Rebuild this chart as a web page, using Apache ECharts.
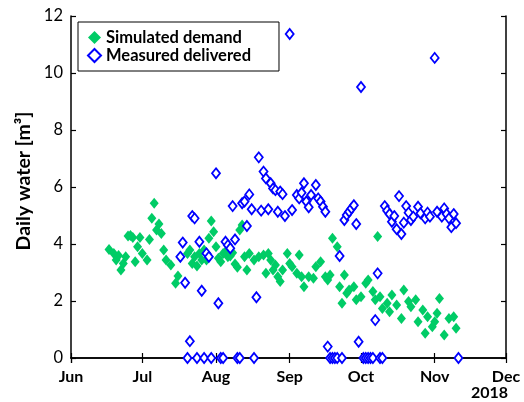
<!DOCTYPE html>
<html><head><meta charset="utf-8">
<script src="https://cdn.jsdelivr.net/npm/echarts@6/dist/echarts.min.js"></script>
<style>html,body{margin:0;padding:0;background:#fff}#c{width:524px;height:402px}</style>
</head><body><div id="c"></div>
<script>
var monthLabels = ['Jan','Feb','Mar','Apr','May','Jun','Jul','Aug','Sep','Oct','Nov','Dec'];
var yTicks = [0, 2, 4, 6, 8, 10, 12];
var simDates = ['2018-06-17','2018-06-19','2018-06-20','2018-06-21','2018-06-22','2018-06-23','2018-06-24','2018-06-25','2018-06-26','2018-06-27','2018-06-28','2018-06-29','2018-06-30','2018-07-01','2018-07-03','2018-07-04','2018-07-05','2018-07-06','2018-07-07','2018-07-08','2018-07-09','2018-07-10','2018-07-11','2018-07-13','2018-07-15','2018-07-16','2018-07-17','2018-07-20','2018-07-21','2018-07-22','2018-07-23','2018-07-24','2018-07-25','2018-07-26','2018-07-27','2018-07-28','2018-07-29','2018-07-30','2018-07-31','2018-08-01','2018-08-02','2018-08-03','2018-08-04','2018-08-05','2018-08-06','2018-08-07','2018-08-08','2018-08-09','2018-08-10','2018-08-11','2018-08-12','2018-08-13','2018-08-14','2018-08-15','2018-08-17','2018-08-19','2018-08-21','2018-08-22','2018-08-23','2018-08-24','2018-08-25','2018-08-26','2018-08-27','2018-08-28','2018-08-29','2018-08-31','2018-09-01','2018-09-02','2018-09-04','2018-09-05','2018-09-06','2018-09-07','2018-09-09','2018-09-11','2018-09-12','2018-09-14','2018-09-16','2018-09-17','2018-09-18','2018-09-19','2018-09-21','2018-09-22','2018-09-23','2018-09-24','2018-09-25','2018-09-26','2018-09-28','2018-09-29','2018-10-01','2018-10-03','2018-10-04','2018-10-06','2018-10-07','2018-10-08','2018-10-09','2018-10-10','2018-10-12','2018-10-13','2018-10-14','2018-10-16','2018-10-18','2018-10-19','2018-10-21','2018-10-22','2018-10-24','2018-10-25','2018-10-27','2018-10-28','2018-10-29','2018-10-31','2018-11-01','2018-11-02','2018-11-03','2018-11-05','2018-11-07','2018-11-09','2018-11-10'];
var simValues = [3.81,3.67,3.44,3.60,3.09,3.32,3.55,4.28,4.30,4.23,3.38,3.90,4.23,3.67,3.44,4.16,4.90,5.43,4.49,4.70,4.37,3.79,3.44,3.26,2.62,2.88,3.55,3.67,3.79,3.32,3.55,3.23,3.67,3.44,3.79,3.44,4.20,4.81,4.43,3.90,3.50,3.38,3.67,3.73,3.55,3.58,3.69,3.30,3.18,4.49,4.67,3.55,3.09,3.67,3.44,3.55,3.61,2.97,3.67,3.44,3.09,3.26,2.85,2.68,3.09,3.67,3.32,3.20,2.97,3.61,2.85,2.50,2.85,2.80,3.20,3.38,2.85,2.74,2.91,4.20,3.90,2.50,1.92,2.91,2.27,2.39,2.50,2.04,2.15,2.62,2.74,2.33,2.04,4.26,2.15,1.74,1.92,1.62,2.21,1.86,1.39,2.39,1.98,1.80,2.04,1.27,1.68,0.87,1.45,1.10,1.27,1.57,2.09,0.81,1.39,1.45,1.04];
var measDates = ['2018-07-17','2018-07-18','2018-07-19','2018-07-20','2018-07-21','2018-07-22','2018-07-23','2018-07-24','2018-07-25','2018-07-26','2018-07-27','2018-07-28','2018-07-29','2018-07-30','2018-08-01','2018-08-02','2018-08-03','2018-08-04','2018-08-05','2018-08-06','2018-08-07','2018-08-08','2018-08-09','2018-08-10','2018-08-11','2018-08-12','2018-08-13','2018-08-14','2018-08-15','2018-08-16','2018-08-17','2018-08-18','2018-08-19','2018-08-20','2018-08-21','2018-08-22','2018-08-23','2018-08-24','2018-08-25','2018-08-26','2018-08-27','2018-08-28','2018-08-29','2018-08-30','2018-09-01','2018-09-02','2018-09-04','2018-09-05','2018-09-06','2018-09-07','2018-09-08','2018-09-09','2018-09-10','2018-09-12','2018-09-13','2018-09-14','2018-09-15','2018-09-16','2018-09-17','2018-09-18','2018-09-19','2018-09-20','2018-09-21','2018-09-22','2018-09-23','2018-09-24','2018-09-25','2018-09-26','2018-09-27','2018-09-28','2018-09-29','2018-09-30','2018-10-01','2018-10-02','2018-10-03','2018-10-04','2018-10-05','2018-10-06','2018-10-07','2018-10-08','2018-10-09','2018-10-10','2018-10-11','2018-10-12','2018-10-13','2018-10-14','2018-10-15','2018-10-16','2018-10-17','2018-10-18','2018-10-19','2018-10-20','2018-10-21','2018-10-22','2018-10-23','2018-10-25','2018-10-26','2018-10-28','2018-10-29','2018-10-30','2018-11-01','2018-11-02','2018-11-04','2018-11-05','2018-11-06','2018-11-07','2018-11-08','2018-11-09','2018-11-10','2018-11-11'];
var measValues = [3.55,4.05,2.64,0,0.59,4.98,4.90,0,4.08,2.36,0,3.67,3.55,0,6.48,1.92,0,0,4.08,3.96,3.85,5.33,4.16,0,0,5.43,5.49,4.63,5.74,5.22,0,2.13,7.04,5.17,6.54,6.30,5.22,6.13,5.95,5.89,5.13,5.84,5.75,4.98,11.37,5.19,5.72,5.60,5.80,6.13,5.49,5.29,5.72,6.07,5.60,5.49,5.31,5.13,0.40,0,0,0,0,3.58,0,4.84,5.02,5.13,5.25,5.36,4.70,0.57,9.51,0,0,0,0,0,1.33,2.97,0,0,5.33,5.17,5.05,4.78,4.98,4.52,5.68,4.35,4.75,5.33,5.10,4.84,4.96,5.31,5.08,4.90,5.10,4.96,10.53,5.13,4.96,5.25,5.05,4.90,4.59,5.05,4.73,0];

function pairs(d, v) { return d.map(function (x, i) { return [x, v[i]]; }); }
var FONT = 'Lato';
var chart = echarts.init(document.getElementById('c'));
var xBase = {
  type: 'time', min: '2018-06-01', max: '2018-12-01', splitNumber: 6,
  axisLine: { lineStyle: { color: '#000', width: 1.5 } },
  axisTick: { inside: true, length: 5, lineStyle: { color: '#000', width: 1.2 } },
  splitLine: { show: false }, minorTick: { show: false }
};
var yBase = {
  type: 'value', min: 0, max: 12, interval: 2,
  axisLine: { show: true, lineStyle: { color: '#000', width: 1.5 } },
  axisTick: { show: true, inside: true, length: 5, lineStyle: { color: '#000', width: 1.2 } },
  splitLine: { show: false }
};
chart.setOption({
  animation: false,
  backgroundColor: '#fff',
  grid: { left: 71, right: 18, top: 16, bottom: 44, outerBoundsMode: 'none' },
  legend: {
    orient: 'vertical', left: 78, top: 22, padding: [7, 28, 7, 9], itemGap: 1,
    borderColor: '#000', borderWidth: 1, backgroundColor: '#fff',
    itemWidth: 13, itemHeight: 13,
    textStyle: { fontFamily: FONT, fontWeight: 'bold', fontSize: 16.5, color: '#000' },
    data: ['Simulated demand', 'Measured delivered']
  },
  xAxis: [
    Object.assign({}, xBase, {
      position: 'bottom',
      axisLabel: {
        fontFamily: FONT, fontWeight: 'bold', fontSize: 16, color: '#000', margin: 11,
        showMinLabel: true, showMaxLabel: true,
        formatter: function (val) { return monthLabels[new Date(val).getMonth()]; }
      }
    }),
    Object.assign({}, xBase, { position: 'top', axisLabel: { show: false } })
  ],
  yAxis: [
    Object.assign({}, yBase, {
      position: 'left',
      name: 'Daily water [m³]', nameLocation: 'middle', nameGap: 37, nameMoveOverlap: false,
      nameTextStyle: { fontFamily: FONT, fontWeight: 'bold', fontSize: 19.5, color: '#000', padding: [0, 0, 0, 12] },
      axisLabel: { fontFamily: FONT, fontSize: 16.5, color: '#000', margin: 8,
        formatter: function (v) { return yTicks.indexOf(v) >= 0 ? String(v) : ''; } }
    }),
    Object.assign({}, yBase, { position: 'right', axisLabel: { show: false } })
  ],
  graphic: [{
    type: 'text', right: 16, bottom: 1,
    style: { text: '2018', fontFamily: FONT, fontWeight: 'bold', fontSize: 16, fill: '#000' }
  }],
  series: [
    {
      name: 'Simulated demand', type: 'scatter', symbol: 'diamond', symbolSize: [9, 11],
      itemStyle: { color: '#00CC66', opacity: 1 },
      data: pairs(simDates, simValues)
    },
    {
      name: 'Measured delivered', type: 'scatter', symbol: 'diamond', symbolSize: [8, 10],
      itemStyle: { color: '#fff', borderColor: '#0000FF', borderWidth: 1.8, opacity: 1 },
      data: pairs(measDates, measValues)
    }
  ]
});
</script></body></html>
